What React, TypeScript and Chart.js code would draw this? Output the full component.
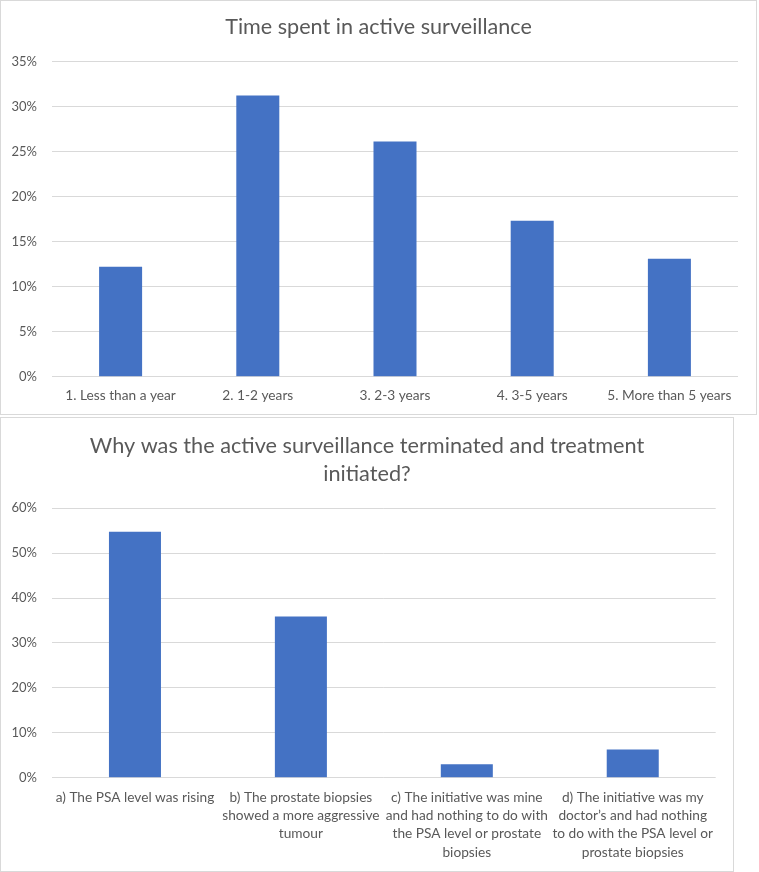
import React, { useEffect, useRef } from 'react';
import { Chart, registerables } from 'chart.js';

Chart.register(...registerables);

// ---- Data ----
const durationTitle = 'Time spent in active surveillance';
const durationCategories = ['1. Less than a year', '2. 1-2 years', '3. 2-3 years', '4. 3-5 years', '5. More than 5 years'];
const durationValues = [12.2, 31.2, 26.1, 17.3, 13.1];
const durationMax = 35;
const durationStep = 5;

const reasonTitle = ['Why was the active surveillance terminated and treatment', 'initiated?'];
const reasonCategories = [
  ['a) The PSA level was rising'],
  ['b) The prostate biopsies', 'showed a more aggressive', 'tumour'],
  ['c) The initiative was mine', 'and had nothing to do with', 'the PSA level or prostate', 'biopsies'],
  ['d) The initiative was my', 'doctor\u2019s and had nothing', 'to do with the PSA level or', 'prostate biopsies'],
];
const reasonValues = [54.8, 35.9, 3.0, 6.3];
const reasonMax = 60;
const reasonStep = 10;

const FONT = 'Lato';
const TEXT = '#595959';
const GRID = '#d9d9d9';
const BAR = '#4472c4';

type PanelProps = {
  width: number;
  height: number;
  title: string | string[];
  titleSize: number;
  titleLineHeight: number;
  titlePadTop: number;
  titlePadBottom: number;
  labels: any[];
  values: number[];
  max: number;
  step: number;
  plotLeft: number;
  xAxisHeight: number;
  xPad: number;
  xLineHeight: number;
  padRight: number;
};

function BarPanel(p: PanelProps) {
  const ref = useRef<HTMLCanvasElement | null>(null);
  useEffect(() => {
    if (!ref.current) return;
    const chart = new Chart(ref.current, {
      type: 'bar',
      data: {
        labels: p.labels,
        datasets: [
          {
            data: p.values,
            yAxisID: 'y',
            backgroundColor: BAR,
            borderWidth: 0,
            barPercentage: 0.3135,
            categoryPercentage: 1,
          },
        ],
      },
      options: {
        responsive: false,
        animation: false,
        devicePixelRatio: 1,
        layout: { padding: 0 },
        plugins: {
          legend: { display: false },
          tooltip: { enabled: false },
          title: {
            display: true,
            text: p.title,
            color: TEXT,
            font: { family: FONT, size: p.titleSize, weight: 'normal', lineHeight: p.titleLineHeight },
            padding: { top: p.titlePadTop, bottom: p.titlePadBottom },
          },
        },
        scales: {
          x: {
            grid: { display: false, drawTicks: false },
            border: { display: false },
            ticks: {
              color: TEXT,
              font: { family: FONT, size: 13.7, lineHeight: p.xLineHeight },
              padding: p.xPad,
              maxRotation: 0,
              autoSkip: false,
            },
            afterFit: (s: any) => {
              s.height = p.xAxisHeight;
            },
          },
          y: {
            position: 'left',
            min: 0,
            max: p.max,
            grid: { color: GRID, lineWidth: 1, drawTicks: false },
            border: { display: false },
            ticks: {
              stepSize: p.step,
              color: TEXT,
              font: { family: FONT, size: 13 },
              padding: 15,
              callback: (v: any) => v + '%',
            },
            afterFit: (s: any) => {
              s.width = p.plotLeft;
            },
          },
          yRightSpace: {
            type: 'linear',
            position: 'right',
            min: 0,
            max: p.max,
            grid: { display: false, drawTicks: false },
            border: { display: false },
            ticks: { display: false },
            afterFit: (s: any) => {
              s.width = p.padRight;
            },
          },
        },
      },
    });
    return () => chart.destroy();
  }, []);
  return <canvas ref={ref} width={p.width} height={p.height} style={{ display: 'block', width: p.width, height: p.height }} />;
}

export default function App() {
  return (
    <div style={{ position: 'absolute', left: 0, top: 0, width: 759, height: 872, background: '#fff' }}>
      <div style={{ position: 'absolute', left: 0, top: 0, width: 755, height: 413, border: '1px solid #d9d9d9' }}>
        <BarPanel
          width={755}
          height={413}
          title={durationTitle}
          titleSize={21.6}
          titleLineHeight={1.2}
          titlePadTop={13}
          titlePadBottom={21.4}
          labels={durationCategories}
          values={durationValues}
          max={durationMax}
          step={durationStep}
          plotLeft={51}
          xAxisHeight={37.3}
          xPad={11.1}
          xLineHeight={1.2}
          padRight={18}
        />
      </div>
      <div style={{ position: 'absolute', left: 0, top: 417, width: 732, height: 453, border: '1px solid #d9d9d9' }}>
        <BarPanel
          width={732}
          height={453}
          title={reasonTitle}
          titleSize={21.7}
          titleLineHeight={1.29}
          titlePadTop={14}
          titlePadBottom={20.3}
          labels={reasonCategories}
          values={reasonValues}
          max={reasonMax}
          step={reasonStep}
          plotLeft={51}
          xAxisHeight={93.3}
          xPad={10.45}
          xLineHeight={1.336}
          padRight={17.3}
        />
      </div>
    </div>
  );
}
